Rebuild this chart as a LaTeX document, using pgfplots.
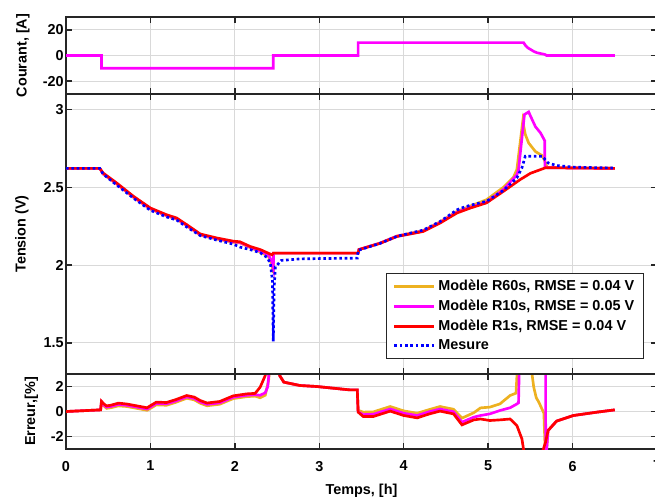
\documentclass[border=0pt]{standalone}
\usepackage{fontspec}
\setmainfont{Liberation Sans}
\usepackage{pgfplots}
\pgfplotsset{compat=1.18}
\definecolor{morange}{rgb}{0.929,0.694,0.125}
\definecolor{mmag}{rgb}{1,0,1}
\definecolor{mred}{rgb}{1,0,0}
\definecolor{mblue}{rgb}{0,0,1}
\newcommand{\ff}{\fontsize{10.8}{13}\selectfont\bfseries}
\pgfplotsset{
  common/.style={
    scale only axis, width=443.25pt,
    xmin=0, xmax=7, xtick={0,1,2,3,4,5,6,7},
    grid=major, major grid style={black!15, line width=0.6pt},
    axis line style={black!85, line width=1.1pt},
    tick style={black!85, line width=1.1pt},
    major tick length=4.5pt, tick align=inside,
    ticklabel style={font=\ff},
    yticklabel style={inner xsep=1.5pt},
    label style={font=\ff},
    /pgf/number format/assume math mode=true,
    legend image code/.code={\draw[##1] (0pt,0pt) -- (30pt,0pt);},
  },
}
\begin{document}
\begin{tikzpicture}
\useasboundingbox (-49.5pt,-38.25pt) rectangle (441.75pt,336.75pt);
% ---------- bottom: error ----------
\begin{axis}[common, name=bot, at={(0pt,0pt)}, anchor=south west,
  height=56.25pt, ymin=-3, ymax=3, ytick={-2,0,2},
  xticklabel style={yshift=-5.5pt},
  xlabel={Temps, [h]},
  xlabel style={at={(axis description cs:0.5,0)}, anchor=base, yshift=-33.75pt},
  ylabel={Erreur,[\%]},
  ylabel style={at={(axis description cs:-0.0584,0.5)}, anchor=center},
]
\addplot[morange, line width=2pt] coordinates {
(0,0)(0.41,0.13)(0.42,0.7)(0.45,0.45)(0.48,0.25)(0.53,0.3)(0.62,0.45)(0.72,0.4)(0.84,0.25)(0.96,0.1)(1.02,0.33)(1.07,0.53)(1.19,0.5)(1.30,0.73)(1.43,1.06)(1.52,0.93)(1.59,0.66)(1.67,0.46)(1.82,0.58)(1.98,1.03)(2.14,1.19)(2.24,1.23)(2.30,1.1)(2.36,1.3)(2.40,2.5)(2.42,4)(2.455,38)(2.50,6)(2.53,2.88)(2.58,2.35)(2.77,2.08)(2.97,2.0)(3.36,1.73)(3.45,1.73)
(3.46,0.1)(3.52,-0.05)(3.64,-0.03)(3.84,0.4)(4.00,0.05)(4.16,-0.14)(4.30,0.15)(4.43,0.4)(4.59,0.18)(4.69,-0.53)(4.83,-0.1)(4.91,0.29)(5.02,0.35)(5.14,0.61)(5.26,1.28)(5.33,1.47)(5.35,4)(5.50,4)(5.54,1.95)(5.57,1.1)(5.60,0.75)(5.66,-0.13)(5.68,-4)(5.69,-3.3)(5.71,-1.52)(5.81,-0.77)(6.01,-0.32)(6.29,-0.05)(6.50,0.13)};
\addplot[mmag, line width=2pt] coordinates {
(0,0)(0.41,0.13)(0.42,0.76)(0.45,0.52)(0.48,0.35)(0.53,0.4)(0.62,0.56)(0.72,0.5)(0.84,0.35)(0.96,0.2)(1.02,0.44)(1.07,0.64)(1.19,0.61)(1.30,0.84)(1.43,1.17)(1.52,1.04)(1.59,0.77)(1.67,0.57)(1.82,0.69)(1.98,1.14)(2.14,1.3)(2.24,1.34)(2.30,1.3)(2.36,1.5)(2.39,2.0)(2.41,3.5)(2.455,38)(2.50,6)(2.53,2.88)(2.58,2.35)(2.77,2.08)(2.97,2.0)(3.36,1.73)(3.45,1.73)
(3.46,-0.02)(3.52,-0.25)(3.64,-0.22)(3.84,0.2)(4.00,-0.14)(4.16,-0.32)(4.30,-0.02)(4.43,0.2)(4.59,-0.02)(4.69,-0.85)(4.83,-0.45)(4.91,-0.32)(5.02,-0.19)(5.14,0.08)(5.26,0.3)(5.34,0.6)(5.36,0.7)(5.37,4)(5.68,4)(5.682,-4)(5.69,-3.3)(5.71,-1.52)(5.81,-0.77)(6.01,-0.32)(6.29,-0.05)(6.50,0.13)};
\addplot[mred, line width=2pt] coordinates {
(0,0)(0.41,0.13)(0.42,0.82)(0.45,0.6)(0.48,0.45)(0.53,0.5)(0.62,0.67)(0.72,0.6)(0.84,0.45)(0.96,0.3)(1.02,0.55)(1.07,0.75)(1.19,0.72)(1.30,0.95)(1.43,1.28)(1.52,1.15)(1.59,0.88)(1.67,0.68)(1.82,0.8)(1.98,1.25)(2.14,1.41)(2.24,1.45)(2.30,1.95)(2.36,2.88)(2.40,6)(2.455,38)(2.50,6)(2.53,2.88)(2.58,2.35)(2.77,2.08)(2.97,2.0)(3.36,1.73)(3.45,1.73)
(3.46,-0.05)(3.52,-0.4)(3.64,-0.4)(3.84,0.03)(4.00,-0.32)(4.16,-0.51)(4.30,-0.2)(4.43,0.03)(4.59,-0.19)(4.69,-1.07)(4.83,-0.67)(4.91,-0.6)(5.02,-0.72)(5.14,-0.67)(5.26,-0.6)(5.34,-1.12)(5.40,-2.19)(5.43,-3.5)(5.45,-6)(5.62,-6)(5.64,-3.3)(5.68,-2.45)(5.71,-1.52)(5.81,-0.77)(6.01,-0.32)(6.29,-0.05)(6.50,0.13)};
\end{axis}
% ---------- middle: voltage ----------
\begin{axis}[common, name=mid, at={(0pt,56.25pt)}, anchor=south west,
  height=210pt, ymin=1.3, ymax=3.1, ytick={1.5,2,2.5,3},
  xticklabels={},
  ylabel={Tension (V)},
  ylabel style={at={(axis description cs:-0.0745,0.5)}, anchor=center},
  legend style={at={(0.978,0.361)}, anchor=north east, font=\ff,
    draw=black!85, line width=0.8pt, fill=white, cells={anchor=west},
    inner xsep=5pt, inner ysep=3pt, row sep=1.5pt},
]
\addplot[morange, line width=2pt] coordinates {
(0,2.622)(0.40,2.622)(0.44,2.585)(0.60,2.521)(0.80,2.435)(1.00,2.36)(1.19,2.317)(1.31,2.296)(1.43,2.253)(1.59,2.193)(1.79,2.167)(1.98,2.147)(2.06,2.143)(2.18,2.113)(2.30,2.085)(2.40,2.055)(2.44,2.0)(2.456,1.95)(2.458,2.077)(3.46,2.077)(3.47,2.10)(3.72,2.142)(3.92,2.187)(4.23,2.222)(4.43,2.278)(4.63,2.345)(4.79,2.38)(4.98,2.42)(5.18,2.50)(5.30,2.565)(5.34,2.614)(5.41,2.925)(5.44,2.84)(5.48,2.785)(5.56,2.73)(5.64,2.704)(5.67,2.67)(5.70,2.628)(6.5,2.622)};
\addlegendentry{Modèle R60s, RMSE = 0.04 V}
\addplot[mmag, line width=2pt] coordinates {
(0,2.622)(0.40,2.622)(0.44,2.588)(0.60,2.524)(0.80,2.438)(1.00,2.363)(1.19,2.32)(1.31,2.299)(1.43,2.256)(1.59,2.196)(1.79,2.17)(1.98,2.15)(2.06,2.146)(2.18,2.116)(2.30,2.09)(2.40,2.065)(2.44,2.02)(2.456,1.98)(2.458,2.077)(3.46,2.077)(3.47,2.10)(3.72,2.141)(3.92,2.186)(4.23,2.219)(4.43,2.274)(4.63,2.34)(4.79,2.372)(4.98,2.405)(5.18,2.485)(5.34,2.58)(5.36,2.614)(5.43,2.968)(5.48,2.985)(5.50,2.96)(5.56,2.89)(5.62,2.85)(5.67,2.80)(5.672,2.635)(5.70,2.626)(6.5,2.622)};
\addlegendentry{Modèle R10s, RMSE = 0.05 V}
\addplot[mred, line width=2pt] coordinates {
(0,2.622)(0.40,2.622)(0.44,2.592)(0.60,2.528)(0.80,2.442)(1.00,2.367)(1.19,2.324)(1.31,2.303)(1.43,2.26)(1.59,2.20)(1.79,2.174)(1.98,2.154)(2.06,2.150)(2.18,2.12)(2.30,2.10)(2.44,2.066)(2.456,2.077)(3.46,2.077)(3.47,2.10)(3.72,2.14)(3.92,2.184)(4.23,2.216)(4.43,2.27)(4.63,2.335)(4.79,2.367)(4.98,2.40)(5.18,2.474)(5.38,2.55)(5.50,2.59)(5.68,2.626)(6.5,2.622)};
\addlegendentry{Modèle R1s, RMSE = 0.04 V}
\addplot[mblue, line width=2pt, dash pattern=on 2pt off 2pt] coordinates {
(0,2.622)(0.40,2.622)(0.44,2.585)(0.60,2.515)(0.80,2.43)(1.00,2.352)(1.19,2.31)(1.31,2.29)(1.43,2.245)(1.59,2.19)(1.79,2.16)(1.98,2.135)(2.06,2.116)(2.18,2.10)(2.30,2.08)(2.38,2.05)(2.42,2.013)(2.445,1.9)(2.455,1.51)(2.465,1.85)(2.48,1.99)(2.50,2.0)(2.55,2.03)(2.77,2.04)(3.00,2.042)(3.45,2.045)(3.46,2.095)(3.72,2.14)(3.92,2.185)(4.23,2.225)(4.43,2.28)(4.63,2.355)(4.70,2.37)(4.79,2.385)(4.98,2.41)(5.18,2.48)(5.34,2.56)(5.40,2.625)(5.44,2.70)(5.64,2.70)(5.71,2.657)(5.81,2.64)(6.01,2.63)(6.5,2.624)};
\addlegendentry{Mesure}
\end{axis}
% ---------- top: current ----------
\begin{axis}[common, name=top, at={(0pt,266.25pt)}, anchor=south west,
  height=57.75pt, ymin=-30, ymax=30, ytick={-20,0,20},
  xticklabels={},
  ylabel={Courant, [A]},
  ylabel style={at={(axis description cs:-0.0728,0.5)}, anchor=center},
]
\addplot[mmag, line width=2pt] coordinates {
(0,0)(0.42,0)(0.42,-10)(2.455,-10)(2.455,0)(3.46,0)(3.46,10)(5.42,10)(5.44,8)(5.47,6)(5.50,4.8)(5.54,3.2)(5.58,2.1)(5.66,1.0)(5.68,0.6)(5.69,0)(6.5,0)};
\end{axis}
\end{tikzpicture}
\end{document}
